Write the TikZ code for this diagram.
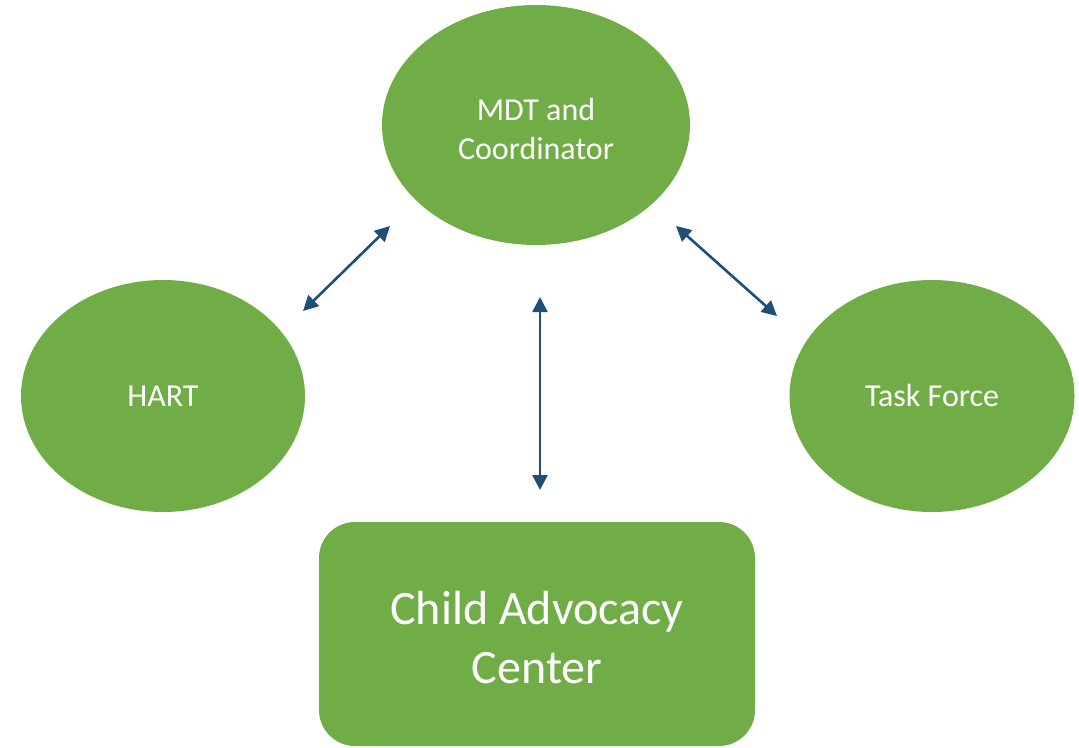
\documentclass[tikz,border=0pt]{standalone}
\usepackage{fontspec}
\setmainfont{Carlito}
\usetikzlibrary{arrows.meta,shapes.geometric}
\definecolor{leaf}{HTML}{70AD47}
\definecolor{navy}{HTML}{1F4E79}
\begin{document}
\begin{tikzpicture}[x=1pt,y=-1pt,
  blob/.style={ellipse,fill=leaf,draw=none,text=white,align=center,
    font=\fontsize{32}{39}\selectfont,inner sep=0pt},
  link/.style={draw=navy,line width=2.6pt,{Triangle[length=15pt,width=15pt]}-{Triangle[length=15pt,width=15pt]}}]
\useasboundingbox (0,0) rectangle (1079,747);
% three round bodies
\node[blob,minimum width=308pt,minimum height=240pt] (mdt) at (536,125) {};
\node[text=white,align=center,font=\fontsize{32}{39}\selectfont,inner sep=0pt]
  (mdtlabel) at (536,129) {MDT and\\Coordinator};
\node[blob,minimum width=284pt,minimum height=232pt] (hart) at (163,396) {HART};
\node[blob,minimum width=285pt,minimum height=232pt] (task) at (932,396) {Task Force};
% the centre box
\node[fill=leaf,rounded corners=36pt,minimum width=436pt,minimum height=224pt]
  (cac) at (537,634) {};
\node[text=white,align=center,font=\fontsize{48}{59}\selectfont,inner sep=0pt]
  (caclabel) at (537,638) {Child Advocacy\\Center};
% links between them
\coordinate (a1) at (303,311); \coordinate (a2) at (390,226);
\coordinate (b1) at (540,297); \coordinate (b2) at (540,490);
\coordinate (c1) at (676,226); \coordinate (c2) at (777,316);
\draw[link] (a1) -- (a2);
\draw[link] (b1) -- (b2);
\draw[link] (c1) -- (c2);
\end{tikzpicture}
\end{document}
